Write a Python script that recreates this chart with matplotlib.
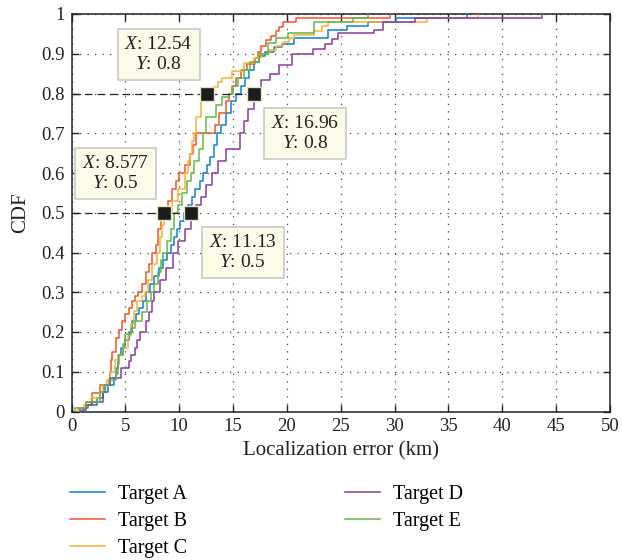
import numpy as np
import matplotlib
matplotlib.use("Agg")
import matplotlib.pyplot as plt

plt.rcParams['font.family'] = ['Liberation Serif', 'DejaVu Serif']
plt.rcParams['mathtext.fontset'] = 'custom'
plt.rcParams['mathtext.it'] = 'Liberation Serif:italic'
plt.rcParams['mathtext.rm'] = 'Liberation Serif'

# step positions (km) and CDF level reached at each step
a_err = [0.8, 1.5, 2.4, 2.9, 3.4, 3.9, 4.1, 4.3, 4.6, 5.0,
         5.3, 5.6, 6.0, 6.3, 6.6, 6.9, 7.3, 7.7, 8.1, 8.5,
         8.9, 9.2, 9.5, 9.8, 10.1, 10.4, 10.8, 11.2, 11.5, 11.9,
         12.2, 12.6, 12.9, 13.2, 13.5, 13.9, 14.3, 14.8, 15.3, 15.7,
         16.1, 16.5, 16.9, 17.4, 18.0, 18.8, 19.5, 20.7, 23.8, 25.6,
         27.5, 30.1, 36.7]
a_cdf = [.008, .017, .034, .05, .067, .085, .11, .143, .16, .18,
         .20, .227, .245, .26, .278, .30, .32, .34, .36, .38,
         .40, .42, .44, .46, .48, .50, .52, .54, .56, .58,
         .60, .62, .64, .67, .70, .72, .75, .78, .80, .82,
         .84, .86, .88, .895, .905, .917, .925, .939, .96, .969,
         .98, .99, 1.0]

b_err = [0.7, 1.3, 1.9, 2.6, 3.6, 3.7, 3.8, 4.1, 4.4, 4.7,
         5.0, 5.3, 5.6, 5.9, 6.2, 6.5, 6.9, 7.2, 7.5, 7.8,
         8.0, 8.3, 9.0, 9.3, 9.7, 10.0, 10.5, 11.0, 11.3, 11.6,
         13.3, 13.7, 14.3, 14.6, 14.9, 15.3, 15.7, 16.3, 17.0, 17.3,
         17.6, 18.1, 18.5, 19.0, 19.3, 19.6, 20.8, 29.6]
b_cdf = [.008, .025, .046, .067, .10, .13, .15, .186, .205, .227,
         .245, .26, .278, .29, .30, .32, .35, .37, .40, .42,
         .46, .50, .53, .56, .58, .60, .62, .649, .67, .70,
         .72, .75, .78, .80, .82, .84, .86, .875, .89, .905,
         .92, .935, .945, .956, .967, .98, .99, 1.0]

c_err = [0.6, 1.2, 1.8, 2.6, 2.9, 3.3, 3.6, 4.0, 4.3, 4.8,
         5.2, 5.5, 5.8, 6.1, 6.5, 6.8, 7.1, 7.5, 7.9, 8.2,
         8.4, 8.577, 9.3, 9.9, 10.5, 10.8, 11.0, 11.2, 11.4, 11.6,
         12.0, 12.54, 13.1, 13.6, 14.0, 14.9, 16.0, 16.9, 17.6, 18.3,
         19.0, 19.6, 20.2, 20.7, 22.5, 23.3, 23.8, 33.0, 37.7]
c_cdf = [.008, .017, .034, .05, .067, .08, .10, .13, .143, .16,
         .19, .22, .253, .278, .29, .30, .33, .37, .40, .44,
         .47, .50, .53, .56, .60, .63, .649, .68, .70, .74,
         .78, .80, .817, .83, .84, .857, .876, .89, .90, .91,
         .92, .93, .939, .948, .956, .969, .981, .99, 1.0]

d_err = [1.0, 1.3, 1.9, 2.9, 3.1, 3.6, 4.6, 5.3, 5.5, 5.9,
         6.1, 6.4, 6.9, 7.2, 7.5, 7.7, 8.2, 8.8, 9.4, 9.9,
         10.5, 11.13, 11.6, 12.0, 12.5, 13.0, 13.6, 14.3, 15.6, 16.0,
         16.4, 16.96, 17.6, 18.4, 19.3, 20.5, 22.4, 23.5, 24.2, 24.7,
         28.1, 28.9, 31.9, 43.7]
d_cdf = [.004, .017, .025, .05, .067, .085, .109, .126, .143, .16,
         .18, .20, .227, .25, .278, .30, .33, .36, .40, .43,
         .46, .50, .52, .54, .57, .60, .63, .66, .70, .73,
         .76, .80, .833, .85, .871, .90, .913, .925, .938, .951,
         .96, .98, .989, 1.0]

e_err = [0.3, 1.3, 2.6, 3.0, 3.5, 4.1, 4.3, 4.4, 4.8, 5.0,
         5.5, 5.9, 6.5, 7.0, 7.4, 7.7, 8.0, 8.3, 8.5, 8.9,
         9.2, 9.5, 9.9, 10.3, 10.7, 11.1, 11.4, 11.8, 12.2, 12.5,
         13.4, 14.0, 14.6, 15.0, 15.5, 16.0, 16.6, 17.4, 18.2, 19.0,
         20.1, 22.5, 26.1, 27.5]
e_cdf = [.008, .025, .05, .067, .08, .095, .12, .143, .17, .196,
         .21, .227, .25, .278, .30, .32, .35, .38, .40, .43,
         .46, .50, .52, .55, .58, .60, .63, .66, .70, .74,
         .77, .79, .80, .82, .84, .86, .88, .90, .926, .939,
         .952, .98, .99, 1.0]

labels = ['Target A', 'Target B', 'Target C', 'Target D', 'Target E']
colors = ['#0f7fd2', '#f2542b', '#fbb12f', '#8a3a9e', '#5cb946']

# data tips
mark_x = [8.577, 11.13, 12.54, 16.96]
mark_y = [0.5, 0.5, 0.8, 0.8]

fig = plt.figure(figsize=(6.22, 5.6), dpi=100)
ax = fig.add_axes([71.5 / 622, (560 - 411.5) / 560, 538.5 / 622, 397.5 / 560])

series = [(a_err, a_cdf), (b_err, b_cdf), (c_err, c_cdf), (d_err, d_cdf), (e_err, e_cdf)]
handles = []
for (xs, ys), lab, col in zip(series, labels, colors):
    x = np.concatenate([[xs[0]], xs])
    y = np.concatenate([[0.0], ys])
    h, = ax.step(x, y, where='post', color=col, lw=1.1, label=lab, zorder=3)
    handles.append(h)

# dashed guide lines from the y axis to the data tips
ax.hlines([0.5, 0.8], 0, [max(mark_x[:2]), max(mark_x[2:])], colors='#222222',
          linestyles=(0, (6, 4)), lw=0.9, zorder=4)
ax.plot(mark_x, mark_y, 's', ms=10.5, mfc='#1c1c1c', mec='#e6e2c4', mew=1.0,
        zorder=5, clip_on=False)

box = dict(boxstyle='square,pad=0.35', fc='#fbfbe8', ec='#c9c9c9', lw=1.2)
tip_pos = [(4.1, 0.598), (15.9, 0.40), (8.1, 0.899), (21.7, 0.70)]
for (tx, ty), mx, my in zip(tip_pos, mark_x, mark_y):
    ax.text(tx, ty, f'$\\mathit{{X}}$: {mx:g}\n$\\mathit{{Y}}$: {my:g}',
            ha='center', va='center', fontsize=14, linespacing=1.25,
            color='#222222', bbox=box, zorder=6)

ax.set_xlim(0, 50)
ax.set_ylim(0, 1)
ax.set_xticks(np.arange(0, 51, 5))
ax.set_yticks(np.arange(0, 1.01, 0.1))
ax.set_yticklabels(['0', '0.1', '0.2', '0.3', '0.4', '0.5', '0.6', '0.7', '0.8', '0.9', '1'])
ax.tick_params(direction='in', length=5, width=1, top=True, right=True,
               labelsize=13.5, colors='#222222', pad=5)
ax.grid(True, color='#444444', linestyle=(0, (1, 5)), lw=0.9)
for s in ax.spines.values():
    s.set_linewidth(1.1)
    s.set_color('#222222')

ax.set_xlabel('Localization error (km)', fontsize=15, color='#222222', labelpad=4)
ax.set_ylabel('CDF', fontsize=15, color='#222222', labelpad=8)

fig.legend(handles=handles, labels=labels, ncol=2, loc='upper left',
           bbox_to_anchor=(70 / 622, 1 - 485 / 560), frameon=False,
           fontsize=14.5, handlelength=1.75, handletextpad=0.65,
           columnspacing=7.8, labelspacing=0.4, borderpad=0, borderaxespad=0)

fig.savefig('out.png', dpi=100)
